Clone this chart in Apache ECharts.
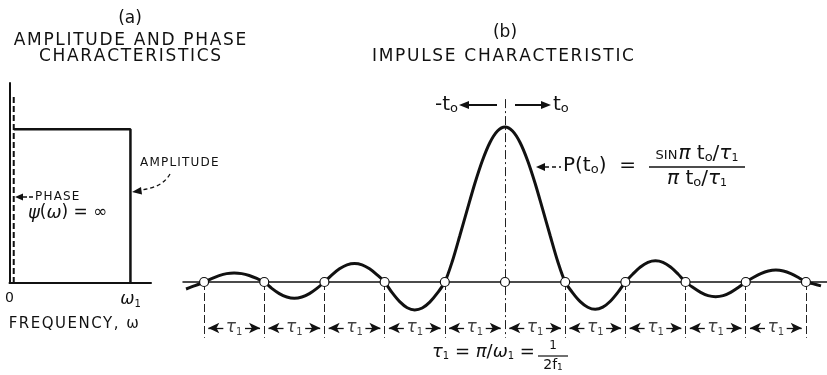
<!DOCTYPE html>
<html>
<head>
<meta charset="UTF-8">
<title>Amplitude, phase and impulse characteristic</title>
<style>
  html, body { margin: 0; padding: 0; background: #fff; }
  #chart { width: 827px; height: 375px; }
</style>
</head>
<body>
<div id="chart"></div>
<script src="https://cdn.jsdelivr.net/npm/echarts@6/dist/echarts.min.js"></script>
<script>
// (a) ideal filter: flat amplitude up to w1, phase line hugging zero
var ampFreq  = [0.035, 1, 1];
var ampValue = [1, 1, 0];
var phaseFreq  = [0.035, 0.035];
var phaseValue = [0, 1.21];

// (b) impulse response, time in units of tau1, height relative to the peak
var pulseT = [-5.3, -5.15, -5,
  -4.875, -4.75, -4.625, -4.5, -4.375, -4.25, -4.125, -4,
  -3.875, -3.75, -3.625, -3.5, -3.375, -3.25, -3.125, -3,
  -2.875, -2.75, -2.625, -2.5, -2.375, -2.25, -2.125, -2,
  -1.875, -1.75, -1.625, -1.5, -1.375, -1.25, -1.125, -1,
  -0.875, -0.75, -0.625, -0.5, -0.375, -0.25, -0.125, 0,
  0.125, 0.25, 0.375, 0.5, 0.625, 0.75, 0.875, 1,
  1.125, 1.25, 1.375, 1.5, 1.625, 1.75, 1.875, 2,
  2.125, 2.25, 2.375, 2.5, 2.625, 2.75, 2.875, 3,
  3.125, 3.25, 3.375, 3.5, 3.625, 3.75, 3.875, 4,
  4.125, 4.25, 4.375, 4.5, 4.625, 4.75, 4.875, 5,
  5.125, 5.25];
var pulseP = [-0.045, -0.024, 0,
  0.022, 0.041, 0.054, 0.058, 0.054, 0.042, 0.023, 0,
  -0.041, -0.075, -0.097, -0.105, -0.097, -0.075, -0.041, 0,
  0.046, 0.085, 0.111, 0.12, 0.111, 0.085, 0.046, 0,
  -0.069, -0.127, -0.166, -0.18, -0.168, -0.13, -0.072, 0,
  0.134, 0.30, 0.47, 0.637, 0.784, 0.90, 0.974, 1,
  0.974, 0.90, 0.784, 0.637, 0.47, 0.30, 0.134, 0,
  -0.07, -0.127, -0.163, -0.176, -0.162, -0.124, -0.067, 0,
  0.052, 0.097, 0.127, 0.137, 0.127, 0.097, 0.052, 0,
  -0.036, -0.067, -0.088, -0.095, -0.088, -0.067, -0.036, 0,
  0.029, 0.054, 0.071, 0.077, 0.071, 0.054, 0.029, 0,
  -0.012, -0.025];
var zeroT = [-5, -4, -3, -2, -1, 0, 1, 2, 3, 4, 5];
var spanMid = [-4.5, -3.5, -2.5, -1.5, -0.5, 0.5, 1.5, 2.5, 3.5, 4.5];

var FONT = 'DejaVu Sans';
var INK = '#111';
var dimY = -0.297;   // height of the tau1 dimension row
var dropY = -0.36;   // bottom of the dashed drop lines

function spaced(s) { return s.split('').join('\u200A'); }
function pairs(xs, ys) { return xs.map(function (x, i) { return [x, ys[i]]; }); }

var chart = echarts.init(document.getElementById('chart'));

// dashed drop lines at every zero crossing, dash-dot through the peak
var dropLines = [];
zeroT.forEach(function (t) {
  if (t === 0) {
    dropLines.push([{ coord: [0, 1.18], lineStyle: { type: [9, 3, 2, 3] } }, { coord: [0, dropY] }]);
  } else {
    dropLines.push([{ coord: [t, 0] }, { coord: [t, dropY] }]);
  }
});

// <- tau1 -> arrows between neighbouring zeros
var dimLines = [];
spanMid.forEach(function (m) {
  dimLines.push([{ coord: [m - 0.18, dimY], symbol: 'none' }, { coord: [m - 0.43, dimY], symbol: 'arrow' }]);
  dimLines.push([{ coord: [m + 0.18, dimY], symbol: 'none' }, { coord: [m + 0.43, dimY], symbol: 'arrow' }]);
});

var big = {
  t: { fontFamily: FONT, fontSize: 20, fill: INK, color: INK },
  g: { fontFamily: FONT, fontSize: 20, fontStyle: 'italic', fill: INK, color: INK },
  o: { fontFamily: FONT, fontSize: 13, fill: INK, color: INK, padding: [7, 0, 0, 0] },
  c: { fontFamily: FONT, fontSize: 13, fill: INK, color: INK, padding: [3, 1, 0, 0] },
  s: { fontFamily: FONT, fontSize: 11, fill: INK, color: INK, padding: [9, 0, 0, 0] }
};

var option = {
  backgroundColor: '#fff',
  animation: false,
  grid: [
    { left: 9.5, top: 83, width: 141.5, height: 200 },
    { left: 183, top: 96, width: 648, height: 248 }
  ],
  xAxis: [
    {
      gridIndex: 0, type: 'value', min: 0, max: 1.17,
      axisLine: { lineStyle: { color: INK, width: 2 } },
      axisTick: { show: false }, splitLine: { show: false },
      axisLabel: {
        customValues: [0, 1], margin: 8,
        formatter: function (v) { return v === 0 ? '{n|0}' : '{w|ω}{s|1}'; },
        rich: {
          n: { fontFamily: FONT, fontSize: 14, color: INK },
          w: { fontFamily: FONT, fontSize: 17, fontStyle: 'italic', color: INK },
          s: { fontFamily: FONT, fontSize: 10, color: INK, padding: [8, 0, 0, 0] }
        }
      },
      name: spaced('FREQUENCY, ω'), nameLocation: 'middle', nameGap: 34,
      nameTextStyle: { fontFamily: FONT, fontSize: 15, color: INK, padding: [0, 13, 0, 0] }
    },
    {
      gridIndex: 1, type: 'value', min: -5.35, max: 5.35,
      axisLine: { onZero: true, lineStyle: { color: INK, width: 1.5 } },
      axisTick: { show: false }, axisLabel: { show: false }, splitLine: { show: false }
    }
  ],
  yAxis: [
    {
      gridIndex: 0, type: 'value', min: 0, max: 1.3,
      axisLine: { show: true, lineStyle: { color: INK, width: 2 } },
      axisTick: { show: false }, axisLabel: { show: false }, splitLine: { show: false }
    },
    {
      gridIndex: 1, type: 'value', min: -0.4, max: 1.2, show: false
    }
  ],
  series: [
    {
      name: 'Amplitude', type: 'line', xAxisIndex: 0, yAxisIndex: 0,
      data: pairs(ampFreq, ampValue), showSymbol: false, symbol: 'none',
      lineStyle: { color: INK, width: 2.5 }
    },
    {
      name: 'Phase', type: 'line', xAxisIndex: 0, yAxisIndex: 0,
      data: pairs(phaseFreq, phaseValue), showSymbol: false, symbol: 'none',
      lineStyle: { color: INK, width: 2, type: [6, 3] }
    },
    {
      name: 'P(t0)', type: 'line', xAxisIndex: 1, yAxisIndex: 1,
      data: pairs(pulseT, pulseP), smooth: 0.3, showSymbol: false, symbol: 'none',
      clip: false, lineStyle: { color: INK, width: 3 }, z: 3
    },
    {
      name: 'zeros', type: 'scatter', xAxisIndex: 1, yAxisIndex: 1,
      data: zeroT.map(function (t) { return [t, 0]; }),
      symbolSize: 9, itemStyle: { color: '#fff', borderColor: INK, borderWidth: 1.2, opacity: 1 }, z: 5,
      markLine: {
        silent: true, symbol: 'none', animation: false,
        label: { show: false },
        lineStyle: { color: '#222', width: 1, type: [8, 3] },
        data: dropLines
      }
    },
    {
      name: 'spans', type: 'scatter', xAxisIndex: 1, yAxisIndex: 1,
      data: spanMid.map(function (m) { return [m, dimY]; }),
      symbolSize: 1, itemStyle: { color: 'transparent' },
      label: {
        show: true, position: 'inside',
        formatter: '{t|τ}{s|1}',
        rich: {
          t: { fontFamily: FONT, fontSize: 17, fontStyle: 'italic', color: INK },
          s: { fontFamily: FONT, fontSize: 10, color: INK, padding: [8, 0, 0, 0] }
        }
      },
      markLine: {
        silent: true, animation: false, symbolSize: [8, 11],
        label: { show: false },
        lineStyle: { color: INK, width: 1.3, type: 'solid' },
        data: dimLines
      }
    }
  ],
  graphic: [
    // titles
    { type: 'text', style: { text: '(a)', x: 130, y: 19, font: '17px ' + FONT, fill: INK, textAlign: 'center', textVerticalAlign: 'middle' } },
    { type: 'text', style: { text: spaced('AMPLITUDE AND PHASE'), x: 130, y: 41, font: '17px ' + FONT, fill: INK, textAlign: 'center', textVerticalAlign: 'middle' } },
    { type: 'text', style: { text: spaced('CHARACTERISTICS'), x: 130, y: 57, font: '17px ' + FONT, fill: INK, textAlign: 'center', textVerticalAlign: 'middle' } },
    { type: 'text', style: { text: '(b)', x: 505, y: 33, font: '17px ' + FONT, fill: INK, textAlign: 'center', textVerticalAlign: 'middle' } },
    { type: 'text', style: { text: spaced('IMPULSE CHARACTERISTIC'), x: 503, y: 57, font: '17px ' + FONT, fill: INK, textAlign: 'center', textVerticalAlign: 'middle' } },

    // (a) annotations
    { type: 'text', style: { text: spaced('AMPLITUDE'), x: 140, y: 163, font: '12px ' + FONT, fill: INK, textVerticalAlign: 'middle' } },
    { type: 'bezierCurve', shape: { x1: 170, y1: 174, cpx1: 162, cpy1: 188, x2: 140, y2: 190 }, style: { stroke: INK, lineWidth: 1.3, lineDash: [4, 3], fill: null } },
    { type: 'polygon', shape: { points: [[132, 192], [141, 187], [142, 194.5]] }, style: { fill: INK } },
    { type: 'polygon', shape: { points: [[15, 197], [23, 193.5], [23, 200.5]] }, style: { fill: INK } },
    { type: 'line', shape: { x1: 23, y1: 197, x2: 33, y2: 197 }, style: { stroke: INK, lineWidth: 1.3, lineDash: [4, 2] } },
    { type: 'text', style: { text: spaced('PHASE'), x: 35, y: 197, font: '12px ' + FONT, fill: INK, textVerticalAlign: 'middle' } },
    { type: 'text', style: {
      text: '{g|ψ}{p|(}{g|ω}{p|) = ∞}', x: 28, y: 213, textVerticalAlign: 'middle',
      rich: { g: { fontFamily: FONT, fontSize: 18, fontStyle: 'italic', fill: INK }, p: { fontFamily: FONT, fontSize: 17, fill: INK } }
    } },

    // (b) time direction arrows above the peak
    { type: 'text', style: { text: '{t|-t}{o|o}', x: 458, y: 105, textAlign: 'right', textVerticalAlign: 'middle', rich: big } },
    { type: 'line', shape: { x1: 467, y1: 105, x2: 497, y2: 105 }, style: { stroke: INK, lineWidth: 2 } },
    { type: 'polygon', shape: { points: [[459, 105], [469, 101], [469, 109]] }, style: { fill: INK } },
    { type: 'line', shape: { x1: 515, y1: 105, x2: 543, y2: 105 }, style: { stroke: INK, lineWidth: 2 } },
    { type: 'polygon', shape: { points: [[551, 105], [541, 101], [541, 109]] }, style: { fill: INK } },
    { type: 'text', style: { text: '{t|t}{o|o}', x: 553, y: 105, textVerticalAlign: 'middle', rich: big } },

    // P(t0) formula with its pointer
    { type: 'polygon', shape: { points: [[536, 167], [545, 163], [545, 171]] }, style: { fill: INK } },
    { type: 'line', shape: { x1: 545, y1: 167, x2: 561, y2: 167 }, style: { stroke: INK, lineWidth: 1.3, lineDash: [4, 3] } },
    { type: 'text', style: { text: '{t|P(t}{o|o}{t|)  =}', x: 563, y: 166, textVerticalAlign: 'middle', rich: big } },
    { type: 'text', style: {
      text: '{c|SIN}{g|π}{t| t}{o|o}{t|/}{g|τ}{s|1}', x: 697, y: 154, textAlign: 'center', textVerticalAlign: 'middle', rich: big
    } },
    { type: 'line', shape: { x1: 649, y1: 167, x2: 745, y2: 167 }, style: { stroke: INK, lineWidth: 1.3 } },
    { type: 'text', style: {
      text: '{g|π}{t| t}{o|o}{t|/}{g|τ}{s|1}', x: 697, y: 179, textAlign: 'center', textVerticalAlign: 'middle', rich: big
    } },

    // tau1 relation under the dimension row
    { type: 'text', style: {
      text: '{g|τ}{s|1}{t| = }{g|π}{t|/}{g|ω}{s|1}{t| =}', x: 432, y: 352, textVerticalAlign: 'middle',
      rich: {
        g: { fontFamily: FONT, fontSize: 18, fontStyle: 'italic', fill: INK },
        t: { fontFamily: FONT, fontSize: 18, fill: INK },
        s: { fontFamily: FONT, fontSize: 10, fill: INK, padding: [8, 0, 0, 0] }
      }
    } },
    { type: 'text', style: { text: '1', x: 553, y: 346, font: '12px ' + FONT, fill: INK, textAlign: 'center', textVerticalAlign: 'middle' } },
    { type: 'line', shape: { x1: 538, y1: 356, x2: 568, y2: 356 }, style: { stroke: INK, lineWidth: 1.2 } },
    { type: 'text', style: {
      text: '{t|2f}{s|1}', x: 553, y: 365, textAlign: 'center', textVerticalAlign: 'middle',
      rich: { t: { fontFamily: FONT, fontSize: 14, fill: INK }, s: { fontFamily: FONT, fontSize: 9, fill: INK, padding: [6, 0, 0, 0] } }
    } }
  ]
};

chart.setOption(option);
</script>
</body>
</html>
